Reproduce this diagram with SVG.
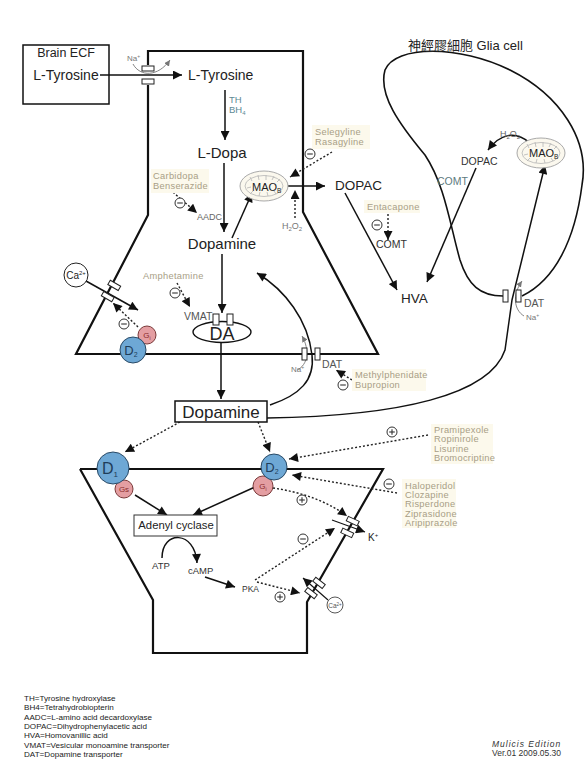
<svg xmlns="http://www.w3.org/2000/svg" width="586" height="760" viewBox="0 0 586 760">
<defs>
<marker id="ah" viewBox="0 0 10 10" refX="10" refY="5" markerWidth="10" markerHeight="9" markerUnits="userSpaceOnUse" orient="auto"><path d="M0,0 L10,5 L0,10 z" fill="#111"/></marker>
<marker id="ahs" viewBox="0 0 10 10" refX="10" refY="5" markerWidth="6" markerHeight="6" markerUnits="userSpaceOnUse" orient="auto"><path d="M0,0 L10,5 L0,10 z" fill="#777"/></marker>
<g id="minus"><circle r="5" fill="#fff" stroke="#333" stroke-width="1"/><line x1="-2.8" y1="0" x2="2.8" y2="0" stroke="#333" stroke-width="1.1"/></g>
<g id="plus"><circle r="5" fill="#fff" stroke="#333" stroke-width="1"/><line x1="-2.8" y1="0" x2="2.8" y2="0" stroke="#333" stroke-width="1.1"/><line x1="0" y1="-2.8" x2="0" y2="2.8" stroke="#333" stroke-width="1.1"/></g>
<g id="chan"><rect x="-6" y="-9" width="12" height="5" fill="#fff" stroke="#222" stroke-width="1"/><rect x="-6" y="4" width="12" height="5" fill="#fff" stroke="#222" stroke-width="1"/></g>
<g id="mito"><ellipse rx="24" ry="15" fill="#fbf8ee" stroke="#a9a9a9" stroke-width="1"/><ellipse rx="19" ry="10.5" fill="none" stroke="#b5b5b5" stroke-width="0.8"/><path d="M-14,-9 L-12,-5 M-6,-11 L-5,-6 M2,-11 L2,-6 M10,-10 L8,-6 M16,-7 L13,-4 M-17,2 L-13,1 M-14,8 L-11,5 M-5,10 L-4,6 M4,10 L3,6 M12,8 L10,5" stroke="#b5b5b5" stroke-width="0.8" fill="none"/></g>
</defs>
<style>
text{font-family:"Liberation Sans",Arial,sans-serif;fill:#222}
.mem{fill:none;stroke:#111;stroke-width:2.2}
.ln{fill:none;stroke:#111;stroke-width:1.5}
.dot{fill:none;stroke:#222;stroke-width:1.4;stroke-dasharray:2 2}
.thin{fill:none;stroke:#777;stroke-width:0.9}
.drug{font-size:9.3px;fill:#a89e86;letter-spacing:0.3px}
.drugbg{fill:#fcf9ec}
.big{font-size:15px}
.sm{font-size:10.5px;fill:#333}
.tiny{font-size:8px;fill:#777}
.teal{font-size:9.5px;fill:#5d8a94}
.leg{font-size:8.1px;fill:#222}
.blue{fill:#6ea8d5;stroke:#2a4a66;stroke-width:1}
.pink{fill:#e49ea2;stroke:#7a3a3a;stroke-width:1}
</style>
<rect width="586" height="760" fill="#fff"/>

<!-- membranes -->
<g id="presynaptic-neuron">
<path class="mem" d="M148,85 L148,215 L76,354 L378,354 L303,212 L303,51 L148,51 L148,65"/>
</g>
<g id="glia-cell">
<path fill="none" stroke="#111" stroke-width="1.6" d="M503,296 C480,296 468,285 460,260 C450,225 445,185 425,155 C400,125 378,95 385,70 C395,45 460,45 510,70 C560,95 590,140 582,185 C575,240 555,280 522,296"/>
<text x="408" y="50" style="font-size:13px;font-family:'Liberation Sans','Noto Sans CJK TC',sans-serif">神經膠細胞 Glia cell</text>
</g>
<g id="postsynaptic-neuron">
<path class="mem" d="M80,469 L153,600 L153,653 L307,653 L307,602 L383,469 L80,469"/>
</g>

<!-- Brain ECF -->
<g id="brain-ecf">
<rect x="23" y="45" width="86" height="59" fill="#fff" stroke="#111" stroke-width="1.5"/>
<text x="66" y="57" text-anchor="middle" style="font-size:12.5px">Brain ECF</text>
<text x="66" y="80" text-anchor="middle" style="font-size:14px">L-Tyrosine</text>
</g>

<!-- connectors -->
<g id="connectors">
<path class="ln" d="M100,75 L182,75" marker-end="url(#ah)"/>
<path class="ln" d="M225,90 L225,140" marker-end="url(#ah)"/>
<path class="ln" d="M224,163 L224,232" marker-end="url(#ah)"/>
<path class="ln" d="M232,238 L252,193" marker-end="url(#ah)"/>
<path class="ln" d="M287,186 L325,186" marker-end="url(#ah)"/>
<path class="ln" d="M345,193 L397,290" marker-end="url(#ah)"/>
<path class="ln" d="M476,168 L427,282" marker-end="url(#ah)"/>
<path class="ln" d="M530,143 C515,130 500,134 488,150" marker-end="url(#ah)"/>
<path class="ln" d="M222,254 L222,313" marker-end="url(#ah)"/>
<path class="ln" d="M221,343 L221,399" marker-end="url(#ah)"/>
<path class="ln" d="M270,405 C300,395 315,380 312,355 C308,320 285,290 257,273" marker-end="url(#ah)"/>
<path class="ln" d="M267,418 C400,416 490,395 505,350 L512,300 L545,165" marker-end="url(#ah)"/>
<path class="ln" d="M86,281 L138,310" marker-end="url(#ah)"/>
<path class="ln" d="M135,495 L167,515" marker-end="url(#ah)"/>
<path class="ln" d="M255,487 L193,515" marker-end="url(#ah)"/>
<path class="ln" d="M162,558 C162,530 195,530 197,563" marker-end="url(#ah)"/>
<path class="ln" d="M205,577 L235,587" marker-end="url(#ah)"/>
<path class="ln" d="M332,520 L365,532" marker-end="url(#ah)" style="stroke-width:1.1"/>
<path class="ln" d="M328,600 L303,578" marker-end="url(#ah)" style="stroke-width:1.1"/>
<!-- dotted drug / modulation arrows -->
<path class="dot" d="M332,152 L290,177" marker-end="url(#ah)"/>
<path class="dot" d="M295,218 L295,190" marker-end="url(#ah)"/>
<path class="dot" d="M167,187 L197,213" marker-end="url(#ah)"/>
<path class="dot" d="M388,214 L388,240" marker-end="url(#ah)"/>
<path class="dot" d="M177,283 L190,307" marker-end="url(#ah)"/>
<path class="dot" d="M138,327 L113,303" marker-end="url(#ah)"/>
<path class="dot" d="M352,380 L336,370" marker-end="url(#ah)"/>
<path class="dot" d="M180,422 L125,452" marker-end="url(#ah)"/>
<path class="dot" d="M258,422 L270,452" marker-end="url(#ah)"/>
<path class="dot" d="M428,435 L289,459" marker-end="url(#ah)"/>
<path class="dot" d="M397,493 L292,475" marker-end="url(#ah)"/>
<path class="dot" d="M273,488 C300,492 325,500 347,516" marker-end="url(#ah)"/>
<path class="dot" d="M255,580 L335,528" marker-end="url(#ah)"/>
<path class="dot" d="M257,582 L300,593" marker-end="url(#ah)"/>
<!-- Na+ small curved arrows -->
<path class="thin" d="M133,64 C140,77 158,77 170,60" marker-end="url(#ahs)"/>
<path class="thin" d="M297,370 C308,365 310,350 302,336" marker-end="url(#ahs)"/>
<path class="thin" d="M524,316 C514,310 512,295 522,281" marker-end="url(#ahs)"/>
</g>

<!-- channels -->
<g id="channels">
<use href="#chan" transform="translate(148,75)"/>
<use href="#chan" transform="translate(311,354) rotate(90)"/>
<use href="#chan" transform="translate(512,296) rotate(90)"/>
<use href="#chan" transform="translate(111,291) rotate(30)"/>
<use href="#chan" transform="translate(350,527) rotate(25)"/>
<use href="#chan" transform="translate(315,588) rotate(38)"/>
</g>

<!-- presynaptic contents -->
<g id="l-tyrosine"><text x="188" y="80" style="font-size:14px">L-Tyrosine</text></g>
<g id="th-bh4"><text x="229" y="103" class="teal">TH</text><text x="229" y="113" class="teal">BH<tspan dy="2" style="font-size:6px">4</tspan></text></g>
<g id="l-dopa"><text x="222" y="158" class="big" text-anchor="middle">L-Dopa</text></g>
<g id="dopamine-pre"><text x="222" y="249" class="big" text-anchor="middle">Dopamine</text></g>
<g id="mao-pre"><use href="#mito" transform="translate(264,186)"/><text x="252" y="191" style="font-size:11px">MAO<tspan dy="2" style="font-size:6.5px">B</tspan></text></g>
<g id="dopac-pre"><text x="335" y="190" style="font-size:13.5px">DOPAC</text></g>
<g id="h2o2-pre"><text x="292" y="229" text-anchor="middle" class="tiny" style="font-size:9px">H<tspan dy="2" style="font-size:6px">2</tspan><tspan dy="-2">O</tspan><tspan dy="2" style="font-size:6px">2</tspan></text></g>
<g id="selegyline"><rect class="drugbg" x="312" y="125" width="58" height="24"/><text x="315" y="135" class="drug">Selegyline</text><text x="315" y="145" class="drug">Rasagyline</text><use href="#minus" transform="translate(310,154)"/></g>
<g id="carbidopa"><rect class="drugbg" x="151" y="169" width="58" height="24"/><text x="153" y="179" class="drug">Carbidopa</text><text x="153" y="189" class="drug">Benserazide</text><use href="#minus" transform="translate(180,203)"/></g>
<g id="aadc"><text x="197" y="220" class="sm" style="font-size:9px;fill:#666">AADC</text></g>
<g id="entacapone"><rect class="drugbg" x="364" y="200" width="56" height="13"/><text x="367" y="210" class="drug">Entacapone</text><use href="#minus" transform="translate(377,225)"/></g>
<g id="comt-pre"><text x="376" y="248" class="sm">COMT</text></g>
<g id="hva"><text x="401" y="303" style="font-size:13.5px">HVA</text></g>
<g id="amphetamine"><text x="143" y="279" class="drug">Amphetamine</text><use href="#minus" transform="translate(175,293)"/></g>
<g id="vmat-da"><text x="184" y="320" class="sm" style="fill:#555">VMAT</text><ellipse cx="222" cy="332" rx="29" ry="10.5" fill="#fff" stroke="#111" stroke-width="1.4"/><text x="222" y="340" text-anchor="middle" style="font-size:18px">DA</text>
<rect x="213" y="314" width="6" height="11" fill="#fff" stroke="#222"/><rect x="227" y="314" width="6" height="11" fill="#fff" stroke="#222"/></g>
<g id="ca-pre"><circle cx="76" cy="275" r="12" fill="#fff" stroke="#222"/><text x="76" y="279" text-anchor="middle" style="font-size:10px">Ca<tspan dy="-4" style="font-size:6px">2+</tspan></text><use href="#minus" transform="translate(124,324)"/></g>
<g id="d2-pre"><circle cx="147" cy="335" r="9" class="pink"/><text x="147" y="338" text-anchor="middle" style="font-size:8px;fill:#8a2a2a">G<tspan dy="2" style="font-size:5px">i</tspan></text><circle cx="133" cy="350" r="13" class="blue"/><text x="131" y="355" text-anchor="middle" style="font-size:13px;fill:#1f3d5a">D<tspan dy="2" style="font-size:7px">2</tspan></text></g>
<g id="dat-pre"><text x="322" y="368" class="sm" style="fill:#555">DAT</text><text x="291" y="372" class="tiny">Na<tspan dy="-3" style="font-size:5px">+</tspan></text></g>
<g id="methylphenidate"><rect class="drugbg" x="352" y="369" width="74" height="22"/><text x="355" y="378" class="drug">Methylphenidate</text><text x="355" y="388" class="drug">Bupropion</text><use href="#minus" transform="translate(343,385)"/></g>
<g id="na-top"><text x="127" y="61" class="tiny">Na<tspan dy="-3" style="font-size:5px">+</tspan></text></g>

<!-- glia contents -->
<g id="mao-glia"><use href="#mito" transform="translate(541,153)"/><text x="529" y="157" style="font-size:11px">MAO<tspan dy="2" style="font-size:6.5px">B</tspan></text></g>
<g id="h2o2-glia"><text x="500" y="137" class="tiny" style="font-size:9px;fill:#666">H<tspan dy="2" style="font-size:6px">2</tspan><tspan dy="-2">O</tspan><tspan dy="2" style="font-size:6px">2</tspan></text></g>
<g id="dopac-glia"><text x="461" y="165" class="sm">DOPAC</text></g>
<g id="comt-glia"><text x="437" y="185" class="sm" style="fill:#5d7a80">COMT</text></g>
<g id="dat-glia"><text x="524" y="307" class="sm" style="fill:#555">DAT</text><text x="526" y="320" class="tiny">Na<tspan dy="-3" style="font-size:5px">+</tspan></text></g>

<!-- synaptic dopamine -->
<g id="dopamine-cleft"><rect x="175" y="401" width="92" height="21" fill="#fff" stroke="#111" stroke-width="1.5"/><text x="221" y="418" text-anchor="middle" style="font-size:17px">Dopamine</text></g>

<!-- postsynaptic -->
<g id="d1"><circle cx="124" cy="489" r="9" class="pink"/><text x="124" y="492" text-anchor="middle" style="font-size:8px;fill:#8a2a2a">Gs</text><circle cx="113" cy="468" r="16" class="blue"/><text x="110" y="474" text-anchor="middle" style="font-size:16px;fill:#1f3d5a">D<tspan dy="3" style="font-size:8px">1</tspan></text></g>
<g id="d2-post"><circle cx="263" cy="486" r="10" class="pink"/><text x="263" y="489" text-anchor="middle" style="font-size:8px;fill:#8a2a2a">G<tspan dy="2" style="font-size:5px">i</tspan></text><circle cx="274" cy="467" r="13" class="blue"/><text x="272" y="472" text-anchor="middle" style="font-size:13px;fill:#1f3d5a">D<tspan dy="2" style="font-size:7px">2</tspan></text></g>
<g id="pramipexole"><rect class="drugbg" x="431" y="424" width="62" height="40"/><text x="434" y="433" class="drug">Pramipexole</text><text x="434" y="442" class="drug">Ropinirole</text><text x="434" y="452" class="drug">Lisurine</text><text x="434" y="461" class="drug">Bromocriptine</text><use href="#plus" transform="translate(392,432)"/></g>
<g id="haloperidol"><rect class="drugbg" x="402" y="479" width="54" height="49"/><text x="405" y="489" class="drug">Haloperidol</text><text x="405" y="498" class="drug">Clozapine</text><text x="405" y="507" class="drug">Risperdone</text><text x="405" y="517" class="drug">Ziprasidone</text><text x="405" y="526" class="drug">Aripiprazole</text><use href="#minus" transform="translate(389,484)"/></g>
<g id="adenyl-cyclase"><rect x="134" y="515" width="83" height="21" fill="#fff" stroke="#333" stroke-width="1"/><text x="176" y="529" text-anchor="middle" style="font-size:11.3px">Adenyl cyclase</text></g>
<g id="atp"><text x="152" y="569" style="font-size:9.5px;fill:#333">ATP</text></g>
<g id="camp"><text x="188" y="574" style="font-size:9.5px;fill:#333">cAMP</text></g>
<g id="pka"><text x="242" y="592" style="font-size:8.5px;fill:#333">PKA</text></g>
<g id="k-channel"><text x="368" y="541" style="font-size:10px">K<tspan dy="-4" style="font-size:6px">+</tspan></text><use href="#plus" transform="translate(302,500)"/><use href="#minus" transform="translate(303,539)"/></g>
<g id="ca-channel"><circle cx="335" cy="605" r="8" fill="#fff" stroke="#444" stroke-width="0.9"/><text x="335" y="608" text-anchor="middle" style="font-size:6.5px;fill:#555">Ca<tspan dy="-2" style="font-size:4.5px">2+</tspan></text><use href="#plus" transform="translate(280,597)"/></g>

<!-- legend -->
<g id="legend">
<text x="24" y="701" class="leg">TH=Tyrosine hydroxylase</text>
<text x="24" y="710" class="leg">BH4=Tetrahydrobiopterin</text>
<text x="24" y="720" class="leg">AADC=L-amino acid decardoxylase</text>
<text x="24" y="729" class="leg">DOPAC=Dihydrophenylacetic acid</text>
<text x="24" y="738" class="leg">HVA=Homovanillic acid</text>
<text x="24" y="748" class="leg">VMAT=Vesicular monoamine transporter</text>
<text x="24" y="757" class="leg">DAT=Dopamine transporter</text>
<text x="492" y="747" style="font-size:8.5px;font-style:italic;letter-spacing:1px;fill:#333">Mulicis  Edition</text>
<text x="492" y="756" style="font-size:8.5px;fill:#333">Ver.01 2009.05.30</text>
</g>
</svg>
